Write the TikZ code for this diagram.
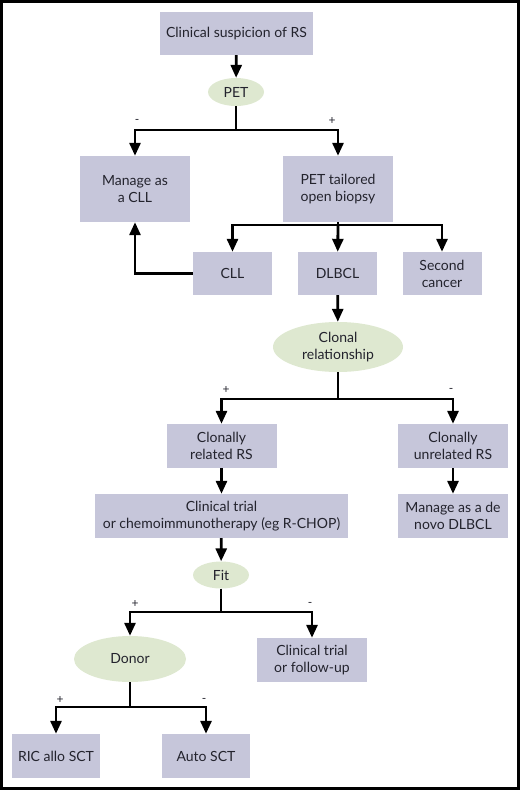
\documentclass[tikz,border=0pt]{standalone}
\usepackage{fontspec}
\setmainfont{Lato}
\usetikzlibrary{arrows.meta,shapes.geometric}
\definecolor{boxc}{RGB}{198,198,218}
\definecolor{ellc}{RGB}{222,232,208}
\definecolor{txtc}{RGB}{35,35,45}
\begin{document}
\begin{tikzpicture}[x=1pt,y=-1pt,
  box/.style={fill=boxc,draw=none,align=center,text=txtc,font=\fontsize{14}{17}\selectfont,inner sep=0pt},
  ell/.style={ellipse,fill=ellc,draw=none,align=center,text=txtc,font=\fontsize{14}{17}\selectfont,inner sep=0pt},
  conn/.style={line width=2.8pt,-{Triangle[length=13pt,width=11pt]}},
  plain/.style={line width=2.8pt},
  sign/.style={font=\fontsize{12}{14}\selectfont,text=txtc,inner sep=0pt}]
\useasboundingbox (0,0) rectangle (520,790);
\draw[line width=2.6pt] (1.3,1.3) rectangle (518.2,788.2);
% nodes
\node[box,minimum width=153,minimum height=43] (susp) at (236.5,33.5) {Clinical suspicion of RS};
\node[ell,minimum width=56,minimum height=28] (pet) at (236,92) {PET};
\node[box,minimum width=110,minimum height=66] (mcll) at (135,189) {Manage as\\a CLL};
\node[box,minimum width=110,minimum height=66] (biop) at (338,189) {PET tailored\\open biopsy};
\node[box,minimum width=79,minimum height=43] (cll) at (232.5,273.5) {CLL};
\node[box,minimum width=79,minimum height=43] (dlbcl) at (337.5,273.5) {DLBCL};
\node[box,minimum width=79,minimum height=43] (sec) at (442,273.5) {Second\\cancer};
\node[ell,minimum width=130,minimum height=50] (clon) at (338,347) {Clonal\\relationship};
\node[box,minimum width=110,minimum height=44] (rel) at (221.5,446) {Clonally\\related RS};
\node[box,minimum width=110,minimum height=44] (unrel) at (453,446) {Clonally\\unrelated RS};
\node[box,minimum width=253,minimum height=44] (trial) at (221.5,516) {Clinical trial\\or chemoimmunotherapy (eg R-CHOP)};
\node[box,minimum width=110,minimum height=44] (novo) at (453,516) {Manage as a de\\novo DLBCL};
\node[ell,minimum width=56,minimum height=27] (fit) at (221,575) {Fit};
\node[ell,minimum width=112,minimum height=46] (donor) at (130,659) {Donor};
\node[box,minimum width=110,minimum height=44] (follow) at (312,660) {Clinical trial\\or follow-up};
\node[box,minimum width=88,minimum height=44] (ric) at (56,756) {RIC allo SCT};
\node[box,minimum width=88,minimum height=44] (auto) at (206,756) {Auto SCT};
% junction coordinates
\coordinate (j1) at (236,130);
\coordinate (j2) at (338,225);
\coordinate (j3) at (338,399);
\coordinate (j4) at (221,612);
\coordinate (j5) at (130,707);
\coordinate (bend) at (135,273.5);
% connectors
\draw[conn] (susp) -- (pet);
\draw[plain] (pet) -- (j1);
\draw[conn] (j1) -| (mcll);
\draw[conn] (j1) -| (biop);
\draw[plain] (biop) -- (j2);
\draw[conn] (j2) -| (cll);
\draw[conn] (j2) -- (dlbcl);
\draw[conn] (j2) -| (sec);
\draw[conn] (cll.west) -- (bend) -- (mcll.south);
\draw[conn] (dlbcl) -- (clon);
\draw[plain] (clon) -- (j3);
\draw[conn] (j3) -| (rel);
\draw[conn] (j3) -| (unrel);
\draw[conn] (rel) -- (trial);
\draw[conn] (unrel) -- (novo);
\draw[conn] (trial) -- (fit);
\draw[plain] (fit) -- (j4);
\draw[conn] (j4) -| (donor.north);
\draw[conn] (j4) -| (follow);
\draw[plain] (donor) -- (j5);
\draw[conn] (j5) -| (ric);
\draw[conn] (j5) -| (auto);
% signs
\node[sign] (s1) at (137,121) {-};
\node[sign] (s2) at (332,121) {+};
\node[sign] (s3) at (226,390) {+};
\node[sign] (s4) at (451,390) {-};
\node[sign] (s5) at (135,604) {+};
\node[sign] (s6) at (310,604) {-};
\node[sign] (s7) at (60,700) {+};
\node[sign] (s8) at (204,700) {-};
\end{tikzpicture}
\end{document}
